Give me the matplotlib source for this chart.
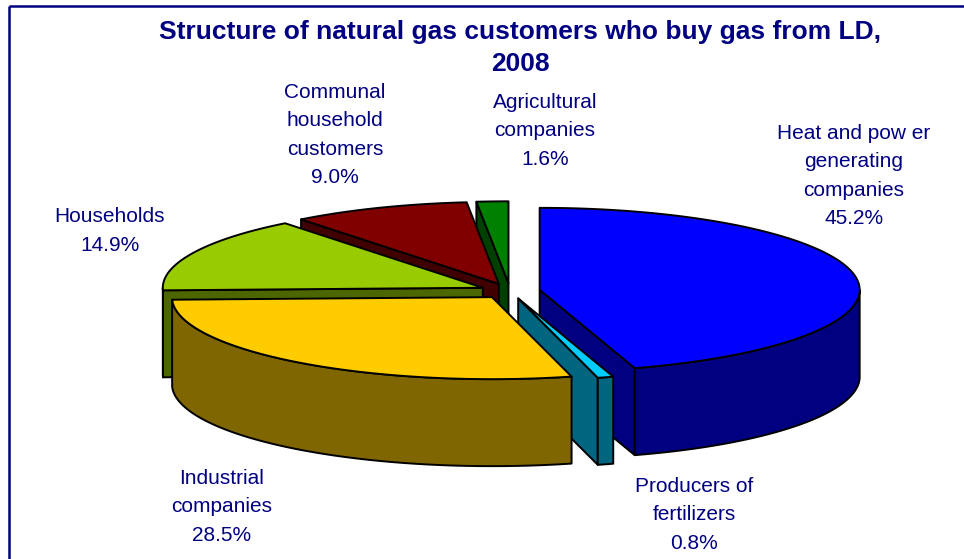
import numpy as np
import matplotlib
matplotlib.use("Agg")
import matplotlib.pyplot as plt
from matplotlib.patches import Polygon

# data
labels = [
    "Heat and pow er\ngenerating\ncompanies",
    "Producers of\nfertilizers",
    "Industrial\ncompanies",
    "Households",
    "Communal\nhousehold\ncustomers",
    "Agricultural\ncompanies",
]
shares = [45.2, 0.8, 28.5, 14.9, 9.0, 1.6]
top_colors = ["#0000ff", "#00ccff", "#ffcc00", "#99cc00", "#800000", "#008000"]
side_colors = ["#000080", "#006680", "#806600", "#4c6600", "#400000", "#004000"]
label_pos = [(854, 176), (694, 515), (222, 507), (110, 231), (335, 135), (545, 131)]

title = "Structure of natural gas customers who buy gas from LD,\n2008"
navy = "#000080"
font = "Liberation Sans"

# pie geometry (pixels)
cx, cy = 510, 291
a, b = 320, 82
depth = 87
explode = 30


def to_screen(X, Y, Z=0.0):
    return cx + X, cy - (b / a) * Y + Z


def rim(theta_deg, ox, oy, z):
    t = np.radians(theta_deg)
    return to_screen(ox + a * np.sin(t), oy + a * np.cos(t), z)


fig = plt.figure(figsize=(9.64, 5.59), dpi=100)
ax = fig.add_axes([0, 0, 1, 1])
ax.set_xlim(0, 964)
ax.set_ylim(559, 0)
ax.axis("off")

total = sum(shares)
bounds = np.concatenate([[0], np.cumsum(shares)]) / total * 360.0

# back slices first, the one holding the front (180 deg) last
slices = []
for i in range(len(shares)):
    s, e = bounds[i], bounds[i + 1]
    m = (s + e) / 2
    if s <= 180 <= e:
        key = 1000
    else:
        key = -abs(m - 180)
    slices.append((key, i, s, e, m))
slices.sort()

edge = dict(edgecolor="black", linewidth=1.4, joinstyle="round")

for _, i, s, e, m in slices:
    ox = explode * np.sin(np.radians(m))
    oy = explode * np.cos(np.radians(m))
    apex_t = to_screen(ox, oy, 0)
    apex_b = to_screen(ox, oy, depth)

    # radial walls
    for ang, visible in ((s, np.sin(np.radians(s)) < -1e-6), (e, np.sin(np.radians(e)) > 1e-6)):
        if visible:
            p1 = rim(ang, ox, oy, 0)
            p2 = rim(ang, ox, oy, depth)
            ax.add_patch(Polygon([apex_t, p1, p2, apex_b], closed=True,
                                 facecolor=side_colors[i], **edge))

    # outer wall (front half only)
    lo, hi = max(s, 90), min(e, 270)
    if hi > lo:
        th = np.linspace(lo, hi, 120)
        xt, yt = rim(th, ox, oy, 0)
        xb, yb = rim(th[::-1], ox, oy, depth)
        pts = np.column_stack([np.concatenate([xt, xb]), np.concatenate([yt, yb])])
        ax.add_patch(Polygon(pts, closed=True, facecolor=side_colors[i], **edge))

    # top face
    th = np.linspace(s, e, 200)
    xt, yt = rim(th, ox, oy, 0)
    pts = np.vstack([[apex_t], np.column_stack([xt, yt])])
    ax.add_patch(Polygon(pts, closed=True, facecolor=top_colors[i], **edge))

for lab, val, (lx, ly) in zip(labels, shares, label_pos):
    ax.text(lx, ly, f"{lab}\n{val:.1f}%", ha="center", va="center",
            multialignment="center", color=navy, fontsize=15,
            family=font, linespacing=1.62)

ax.text(520, 48, title, ha="center", va="center", multialignment="center",
        color=navy, fontsize=19, fontweight="bold", family=font, linespacing=1.45)

# chart frame
ax.plot([9, 964], [6, 6], color=navy, linewidth=1.8, solid_capstyle="butt")
ax.plot([9, 9], [6, 559], color=navy, linewidth=1.8, solid_capstyle="butt")

fig.savefig("out.png", dpi=100)
